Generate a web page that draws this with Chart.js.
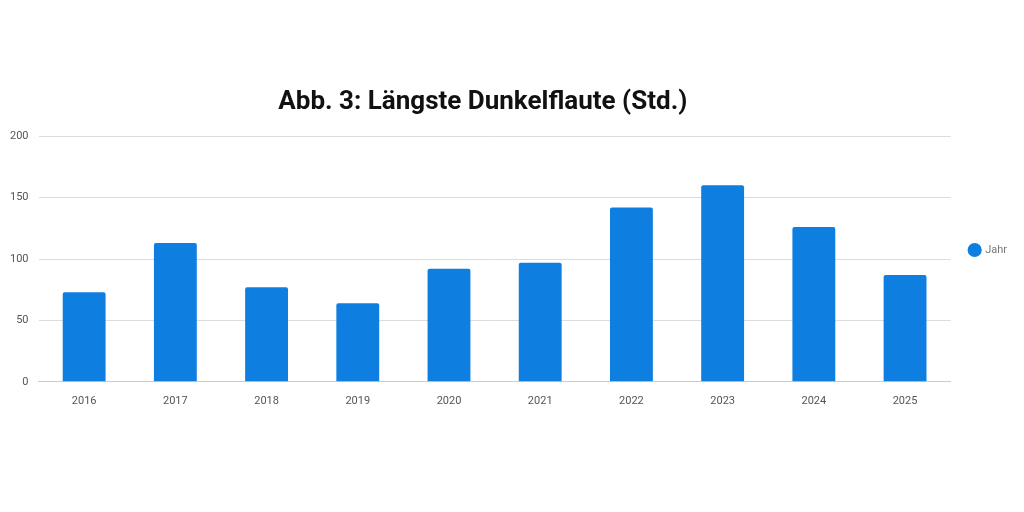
<!DOCTYPE html>
<html>
<head>
<meta charset="utf-8">
<script src="https://cdn.jsdelivr.net/npm/chart.js@4"></script>
<style>
  html, body { margin: 0; padding: 0; background: #fff; }
  #wrap { width: 1024px; height: 512px; }
</style>
</head>
<body>
<div id="wrap"><canvas id="chart"></canvas></div>
<script>
const jahre = ['2016', '2017', '2018', '2019', '2020', '2021', '2022', '2023', '2024', '2025'];
const stunden = [73, 113, 77, 64, 92, 97, 142, 160, 126, 87];
const yTicks = [0, 50, 100, 150, 200];

const blau = 'rgb(14, 127, 224)';

// Titel etwas nach links, wie im Original (nicht ueber die volle Breite zentriert)
const titelVerschieben = {
  id: 'titelVerschieben',
  afterLayout(chart) {
    const t = chart.titleBlock;
    if (!t) return;
    t.left = 0;
    t.right = chart.chartArea.right + 15;
  }
};

new Chart(document.getElementById('chart'), {
  type: 'bar',
  data: {
    labels: jahre,
    datasets: [{
      label: 'Jahr',
      data: stunden,
      backgroundColor: blau,
      borderRadius: 2,
      barPercentage: 0.94,
      categoryPercentage: 0.5
    }]
  },
  options: {
    responsive: true,
    maintainAspectRatio: false,
    animation: false,
    layout: { padding: { top: 87, left: 0, right: 7, bottom: 99 } },
    plugins: {
      title: {
        display: true,
        text: 'Abb. 3: Längste Dunkelflaute (Std.)',
        color: '#111',
        font: { family: 'Roboto', size: 26, weight: 'bold' },
        padding: { top: 0, bottom: 18 }
      },
      legend: {
        position: 'right',
        labels: {
          usePointStyle: true,
          pointStyle: 'circle',
          boxWidth: 10,
          boxHeight: 10,
          padding: 19,
          color: '#777',
          font: { family: 'Roboto', size: 11 }
        }
      },
      tooltip: { enabled: false }
    },
    scales: {
      x: {
        grid: { display: false },
        border: { color: '#ccc' },
        ticks: { color: '#555', font: { family: 'Roboto', size: 11 }, padding: 5 }
      },
      y: {
        min: 0,
        max: 200,
        afterBuildTicks: axis => { axis.ticks = yTicks.map(v => ({ value: v })); },
        grid: { color: '#dcdcdc', drawTicks: false },
        border: { display: false },
        ticks: { color: '#555', font: { family: 'Roboto', size: 11 }, padding: 10 }
      }
    }
  },
  plugins: [titelVerschieben]
});
</script>
</body>
</html>
